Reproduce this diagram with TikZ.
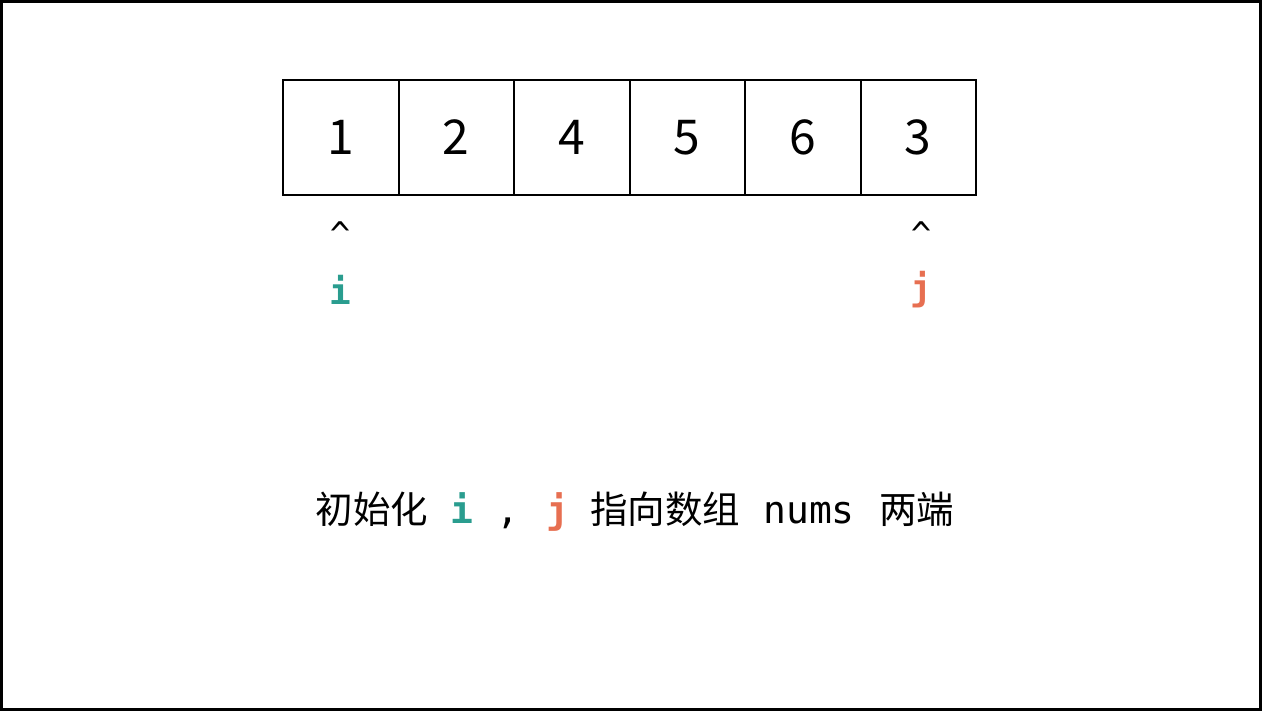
\documentclass[tikz,border=0pt]{standalone}
\usepackage{fontspec}
\setmainfont{Noto Sans CJK SC}
\newfontfamily\cjk{Noto Sans CJK SC}
\newfontfamily\mono{DejaVu Sans Mono}
\definecolor{iteal}{HTML}{2A9D8F}
\definecolor{jorange}{HTML}{E76F51}
\begin{document}
\begin{tikzpicture}[x=1pt,y=-1pt,
  cell/.style={draw=black,line width=2pt,minimum width=115.5pt,minimum height=115pt,inner sep=0pt,font=\cjk\fontsize{48}{48}\selectfont},
  ptr/.style={inner sep=0pt,font=\mono\fontsize{34}{34}\selectfont},
  lbl/.style={inner sep=0pt,font=\mono\bfseries\fontsize{36}{36}\selectfont},
  cjkw/.style={inner sep=0pt,anchor=base,font=\cjk\fontsize{37.5}{37.5}\selectfont},
  monow/.style={inner sep=0pt,anchor=base,font=\mono\fontsize{38}{38}\selectfont}]
\useasboundingbox (0,0) rectangle (1262,711);
\draw[line width=3pt] (1.5,1.5) rectangle (1260.5,709.5);
\foreach \v [count=\k] in {1,2,4,5,6,3}{
  \node[cell] (c\k) at ({283+115.5*(\k-0.5)},137.5) {\v};
}
\node[ptr] (pi) at (340,234) {\^{}};
\node[ptr] (pj) at (921,234) {\^{}};
\node[lbl,text=iteal] (li) at (340,290) {i};
\node[lbl,text=jorange] (lj) at (921,290) {j};
\node[cjkw] (t1) at (372,523) {初始化};
\node[monow,font=\mono\bfseries\fontsize{38}{38}\selectfont,text=iteal] (t2) at (462,523) {i};
\node[monow] (t3) at (508,523) {,};
\node[monow,font=\mono\bfseries\fontsize{38}{38}\selectfont,text=jorange] (t4) at (558,523) {j};
\node[cjkw] (t5) at (665,523) {指向数组};
\node[monow] (t6) at (809,523) {nums};
\node[cjkw] (t7) at (916.5,523) {两端};
\end{tikzpicture}
\end{document}
